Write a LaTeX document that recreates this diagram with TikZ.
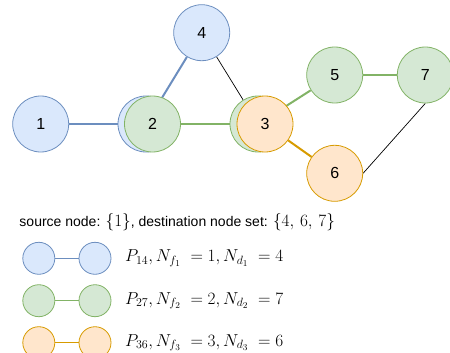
\documentclass[tikz,border=0pt]{standalone}
\usepackage{fontspec}
\setmainfont{Liberation Sans}
\usepackage{amsmath}
\usetikzlibrary{backgrounds}
\definecolor{bfill}{HTML}{DAE8FC}\definecolor{bdraw}{HTML}{6C8EBF}
\definecolor{gfill}{HTML}{D5E8D4}\definecolor{gdraw}{HTML}{82B366}
\definecolor{ofill}{HTML}{FFE6CC}\definecolor{odraw}{HTML}{D79B00}
\newcommand{\mymathsize}{\fontsize{17.5}{19}\selectfont}
\newcommand{\mytextsize}{\fontsize{14}{16}\selectfont}
\tikzset{
  vtx/.style={circle, minimum size=56pt, inner sep=0pt, font=\fontsize{16}{18}\selectfont, line width=0.8pt},
  lvtx/.style={circle, minimum size=32pt, inner sep=0pt, line width=0.8pt},
  bnode/.style={vtx, draw=bdraw, fill=bfill},
  gnode/.style={vtx, draw=gdraw, fill=gfill},
  onode/.style={vtx, draw=odraw, fill=ofill},
  bedge/.style={draw=bdraw, line width=2pt},
  gedge/.style={draw=gdraw, line width=2pt},
  oedge/.style={draw=odraw, line width=2pt},
  kedge/.style={draw=black, line width=0.7pt},
  ledge/.style={line width=1pt},
  mtext/.style={anchor=west, font=\mymathsize, inner sep=0pt},
}
\begin{document}
\begin{tikzpicture}[x=1pt,y=-1pt]
\useasboundingbox (0,0) rectangle (450,353);
% nodes
\node[bnode] (b2) at (146,124) {};
\node[gnode] (n2) at (152.5,124) {2};
\node[gnode] (g3) at (258,124) {};
\node[onode] (n3) at (265,124) {3};
\node[bnode] (n1) at (40.7,124) {1};
\node[bnode] (n4) at (201.7,32.7) {4};
\node[gnode] (n5) at (334.7,75) {5};
\node[gnode] (n7) at (425.3,75) {7};
\node[onode] (n6) at (334.7,173.3) {6};
% edges (behind the nodes)
\begin{scope}[on background layer]
\path[bedge] (n1) -- (b2);
\path[bedge] (b2) -- (n4);
\path[gedge] (n2) -- (g3);
\path[gedge] (g3) -- (n5);
\path[gedge] (n5) -- (n7);
\path[kedge] (n4) -- (g3);
\path[kedge] (n6.east) -- (n7.south);
\path[oedge] (n3) -- (n6);
\end{scope}
% legend
\node[anchor=west, inner sep=0pt, font=\mytextsize] (cap) at (19.3,222)
  {source node: {\mymathsize$\{1\}$}, destination node set: {\mymathsize$\{4,\,6,\,7\}$}};
\node[lvtx, draw=bdraw, fill=bfill] (la1) at (38.8,258.3) {};
\node[lvtx, draw=bdraw, fill=bfill] (la2) at (95,258.3) {};
\node[lvtx, draw=gdraw, fill=gfill] (lb1) at (38.8,300.7) {};
\node[lvtx, draw=gdraw, fill=gfill] (lb2) at (95,300.7) {};
\node[lvtx, draw=odraw, fill=ofill] (lc1) at (38.8,342.7) {};
\node[lvtx, draw=odraw, fill=ofill] (lc2) at (95,342.7) {};
\path[ledge, draw=bdraw] (la1) -- (la2);
\path[ledge, draw=gdraw] (lb1) -- (lb2);
\path[ledge, draw=odraw] (lc1) -- (lc2);
\node[mtext] (ta) at (125,258.3) {$P_{14}, N_{f_1}\; = 1, N_{d_1}\; = 4$};
\node[mtext] (tb) at (125,300.7) {$P_{27}, N_{f_2}\; = 2, N_{d_2}\; = 7$};
\node[mtext] (tc) at (125,342.7) {$P_{36}, N_{f_3}\; = 3, N_{d_3}\; = 6$};
\end{tikzpicture}
\end{document}
